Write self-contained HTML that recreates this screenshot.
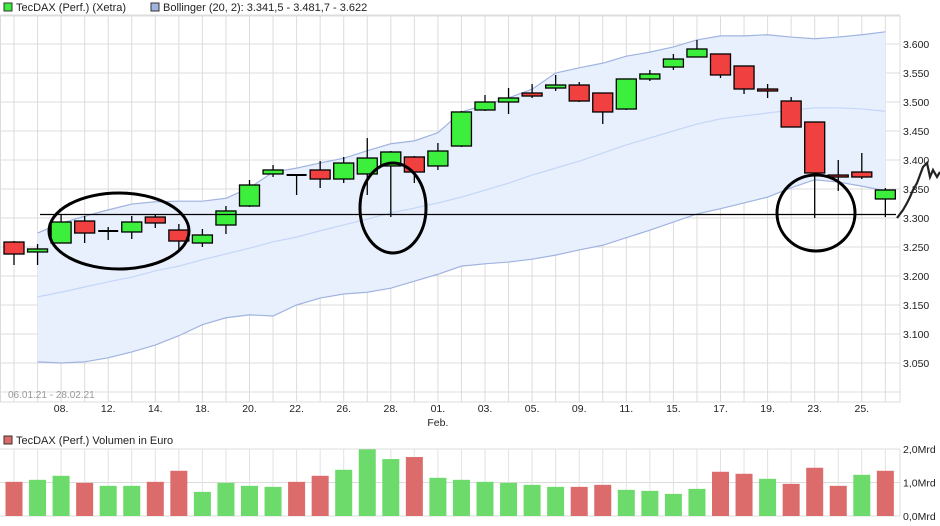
<!DOCTYPE html>
<html><head><meta charset="utf-8"><style>
html,body{margin:0;padding:0;background:#fff;}
svg{display:block;font-family:"Liberation Sans",sans-serif;}
</style></head><body>
<svg id="chart" width="940" height="526" viewBox="0 0 940 526" xmlns="http://www.w3.org/2000/svg">
<g id="legend">
 <rect x="4" y="3" width="8" height="8" fill="#3def3d" stroke="#333" stroke-width="1"/>
 <text x="16" y="11" font-size="11" fill="#222">TecDAX (Perf.) (Xetra)</text>
 <rect x="151" y="3" width="8" height="8" fill="#a0b4e0" stroke="#333" stroke-width="1"/>
 <text x="163" y="11" font-size="11" fill="#222">Bollinger (20, 2): 3.341,5 - 3.481,7 - 3.622</text>
</g>
<g id="grid"></g>
<g id="bands"></g>
<g id="candles"></g>
<g id="ann"></g>
<g id="axes"></g>
<g id="vol"></g>
</svg>
<script>
const labels=["08.","12.","14.","18.","20.","22.","26.","28.","01.","03.","05.","09.","11.","15.","17.","19.","23.","25."];
const opens=[3.2586,3.2414,3.2569,3.2948,3.2776,3.2759,3.3017,3.2793,3.2569,3.2879,3.3207,3.3759,3.3741,3.3828,3.3672,3.3759,3.3897,3.4052,3.3897,3.4241,3.4862,3.5000,3.5155,3.5241,3.5293,3.5155,3.4879,3.5397,3.5603,3.5776,3.5828,3.5621,3.5224,3.5017,3.4655,3.3741,3.3793,3.3328];
const closes=[3.2379,3.2466,3.2931,3.2741,3.2776,3.2931,3.2914,3.2603,3.2707,3.3121,3.3569,3.3828,3.3741,3.3672,3.3948,3.4034,3.4138,3.3793,3.4155,3.4828,3.5000,3.5069,3.5103,3.5293,3.5017,3.4828,3.5397,3.5483,3.5741,3.5914,3.5466,3.5224,3.5190,3.4569,3.3776,3.3707,3.3707,3.3483];
const highs=[3.2603,3.2552,3.3069,3.3034,3.2845,3.3034,3.3052,3.2897,3.2810,3.3207,3.3655,3.3914,3.3741,3.3983,3.4052,3.4379,3.4155,3.4069,3.4293,3.4845,3.5121,3.5241,3.5310,3.5466,3.5345,3.5155,3.5397,3.5552,3.5828,3.6069,3.5828,3.5621,3.5310,3.5086,3.4655,3.4000,3.4121,3.3517];
const lows=[3.2190,3.2190,3.2569,3.2569,3.2621,3.2638,3.2828,3.2448,3.2500,3.2724,3.3190,3.3707,3.3397,3.3517,3.3603,3.3397,3.3017,3.3603,3.3828,3.4224,3.4845,3.4793,3.5069,3.5190,3.5000,3.4621,3.4862,3.5362,3.5552,3.5776,3.5414,3.5138,3.5069,3.4603,3.3000,3.3466,3.3672,3.3017];
const bandUpper=[null,3.274,3.291,3.303,3.314,3.324,3.328,3.329,3.329,3.334,3.352,3.379,3.386,3.395,3.403,3.416,3.428,3.433,3.447,3.483,3.495,3.507,3.522,3.550,3.559,3.567,3.579,3.586,3.595,3.607,3.614,3.614,3.616,3.612,3.609,3.612,3.616,3.621];
const bandMiddle=[null,3.164,3.172,3.181,3.190,3.198,3.209,3.217,3.228,3.238,3.248,3.259,3.267,3.278,3.288,3.298,3.309,3.317,3.326,3.336,3.348,3.360,3.374,3.386,3.398,3.412,3.426,3.438,3.450,3.462,3.471,3.476,3.481,3.486,3.490,3.490,3.488,3.484];
const bandLower=[null,3.052,3.050,3.052,3.059,3.069,3.081,3.097,3.116,3.128,3.133,3.131,3.150,3.162,3.169,3.172,3.179,3.191,3.203,3.217,3.221,3.224,3.229,3.236,3.245,3.253,3.266,3.279,3.293,3.307,3.316,3.326,3.336,3.352,3.366,3.362,3.355,3.347];
const volumes=[1.02,1.08,1.20,0.99,0.90,0.90,1.02,1.35,0.72,0.99,0.90,0.87,1.02,1.20,1.38,1.99,1.70,1.76,1.14,1.08,1.02,0.99,0.93,0.87,0.87,0.93,0.78,0.75,0.66,0.81,1.32,1.26,1.11,0.96,1.44,0.90,1.23,1.35];
const volUp=[0,1,1,0,1,1,0,0,1,1,1,1,0,0,1,1,1,0,1,1,1,1,1,1,0,0,1,1,1,1,0,0,1,0,0,0,1,0];
const priceTicks=[3.05,3.10,3.15,3.20,3.25,3.30,3.35,3.40,3.45,3.50,3.55,3.60];
const volTicks=[0,1,2];
const volTickLabels=["0,0Mrd","1,0Mrd","2,0Mrd"];

const NS="http://www.w3.org/2000/svg";
function el(tag,attrs,parent,text){const e=document.createElementNS(NS,tag);for(const k in attrs)e.setAttribute(k,attrs[k]);if(text!==undefined)e.textContent=text;parent.appendChild(e);return e;}
const xOf=i=>14+i*23.55;
const yOf=v=>218-(v-3.3)*580;
const yVol=v=>516-v*33.5;
const PR=900;
const grid=document.getElementById('grid');
// price panel grid
for(let v=3.0;v<=3.651;v+=0.05){const y=yOf(v);const l=el('line',{x1:0,x2:PR,y1:y,y2:y,stroke:'#dcdcdc','stroke-width':1},grid);

}
for(let i=0;i<opens.length;i++){const l=el('line',{x1:xOf(i),x2:xOf(i),y1:16,y2:402,stroke:'#dcdcdc','stroke-width':1},grid);

}
el('rect',{x:0.5,y:16,width:PR-0.5,height:386,fill:'none',stroke:'#dcdcdc'},grid);
// bands
const bands=document.getElementById('bands');
let up=[],lo=[],mid=[];
for(let i=0;i<bandUpper.length;i++){if(bandUpper[i]==null)continue;up.push(xOf(i)+','+yOf(bandUpper[i]));lo.push(xOf(i)+','+yOf(bandLower[i]));mid.push(xOf(i)+','+yOf(bandMiddle[i]));}
const fill=el('polygon',{points:up.concat(lo.slice().reverse()).join(' '),fill:'#e8f0fd',stroke:'none'},bands);


const ul=el('polyline',{points:up.join(' '),fill:'none',stroke:'#a0b4e0','stroke-width':1.2},bands);


const ll=el('polyline',{points:lo.join(' '),fill:'none',stroke:'#a0b4e0','stroke-width':1.2},bands);


const ml=el('polyline',{points:mid.join(' '),fill:'none',stroke:'#c4d6f8','stroke-width':1.2},bands);


// candles
const cg=document.getElementById('candles');
for(let i=0;i<opens.length;i++){const x=xOf(i);const g=el('g',{},cg);


el('line',{x1:x,x2:x,y1:yOf(highs[i]),y2:yOf(lows[i]),stroke:'#000','stroke-width':1.3},g);
const o=opens[i],c=closes[i];const t=yOf(Math.max(o,c)),b=yOf(Math.min(o,c));
if(Math.abs(b-t)<1.5){el('line',{x1:x-10,x2:x+10,y1:t,y2:t,stroke:'#000','stroke-width':2},g);}
else el('rect',{x:x-10,y:t,width:20,height:b-t,fill:c>=o?'#3def3d':'#f04040',stroke:'#000','stroke-width':1.3},g);}
// annotations
const ann=document.getElementById('ann');
const hl=el('line',{x1:40,x2:896,y1:214.5,y2:214.5,stroke:'#000','stroke-width':1.2},ann);


[[119,231,70,38],[393,208,33,45],[816,213,39,38]].forEach(a=>{const e=el('ellipse',{cx:a[0],cy:a[1],rx:a[2],ry:a[3],fill:'none',stroke:'#000','stroke-width':3},ann);

});
const sq=el('polyline',{points:'897,218 903,210 907,203 910,197 913,190 917,183 920,175 923,167 927,163 930,177 933,170 937,177 940,172',fill:'none',stroke:'#222','stroke-width':2.2},ann);


// axes labels
const ax=document.getElementById('axes');
priceTicks.forEach(v=>{const t=el('text',{x:903,y:yOf(v)+4,'font-size':10.5,fill:'#222'},ax,v.toFixed(3));

});
labels.forEach((s,k)=>{const t=el('text',{x:xOf(2+2*k),y:412,'font-size':10.5,fill:'#222','text-anchor':'middle'},ax,s);

});
const fb=el('text',{x:xOf(18),y:426,'font-size':10.5,fill:'#222','text-anchor':'middle'},ax,'Feb.');


const dr=el('text',{x:8,y:398,'font-size':10,fill:'#999'},ax,'06.01.21 - 28.02.21');


// volume panel
const vg=document.getElementById('vol');
el('rect',{x:4,y:436,width:8,height:8,fill:'#dc6b6b',stroke:'#333'},vg);
const vlt=el('text',{x:16,y:444,'font-size':11,fill:'#222'},vg,'TecDAX (Perf.) Volumen in Euro');


volTicks.forEach((v,k)=>{const y=yVol(v);el('line',{x1:0,x2:PR,y1:y,y2:y,stroke:'#dcdcdc'},vg);
const t=el('text',{x:903,y:y+4,'font-size':10.5,fill:'#222'},vg,volTickLabels[k]);

});
for(let i=0;i<volumes.length;i++){el('line',{x1:xOf(i),x2:xOf(i),y1:449,y2:516,stroke:'#e2e2e2'},vg);}
el('line',{x1:PR,x2:PR,y1:449,y2:516,stroke:'#dcdcdc'},vg);
for(let i=0;i<volumes.length;i++){const y=yVol(volumes[i]);const r=el('rect',{x:xOf(i)-8.5,y:y,width:17,height:516-y,fill:volUp[i]?'#6cdb6c':'#dc6b6b'},vg);

}
</script>
</body></html>
